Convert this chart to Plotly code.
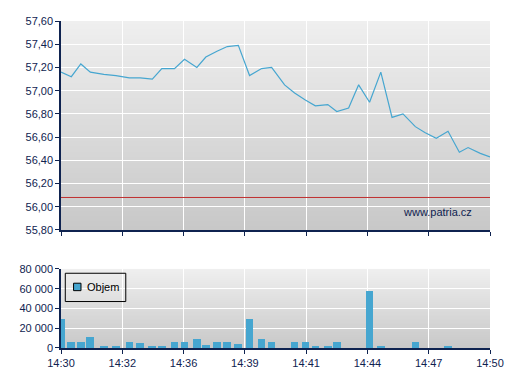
import struct, zlib, base64
import plotly.graph_objects as go

# ---- data ----
slot_pos = [0, 1.01, 1.94, 2.87, 4.19, 5.38, 6.69, 7.76, 8.94, 9.87,
            11.11, 12.09, 13.30, 14.18, 15.27, 16.28, 17.36, 18.46, 19.64, 20.62,
            21.89, 22.87, 23.92, 24.90, 26.12, 27.00, 28.16, 29.14, 30.21, 31.31,
            32.41, 33.48, 34.69, 35.62, 36.74, 37.89, 39.00, 39.85, 41.05, 42.0]
price = [57.16, 57.12, 57.23, 57.16, 57.14, 57.13, 57.11, 57.11, 57.10, 57.19,
         57.19, 57.27, 57.20, 57.29, 57.34, 57.38, 57.39, 57.13, 57.19, 57.20,
         57.05, 56.98, 56.92, 56.87, 56.88, 56.82, 56.85, 57.05, 56.90, 57.16,
         56.77, 56.80, 56.69, 56.64, 56.59, 56.65, 56.47, 56.51, 56.46, 56.43]
volume = [29600, 6400, 6400, 11400, 1300, 1300, 6400, 5300, 1300, 2300,
          6400, 6400, 9400, 3400, 6400, 6400, 4400, 29600, 9400, 6400,
          0, 6400, 6400, 2300, 1300, 6400, 0, 0, 57800, 1300,
          0, 0, 6400, 0, 0, 1300, 0, 0, 0, 0]
prev_close = 56.08
tick_slots = [0, 6, 12, 18, 24, 30, 36, 42]
tick_labels = ["14:30", "14:32", "14:36", "14:39", "14:41", "14:44", "14:47", "14:50"]
price_ticks = [55.8, 56.0, 56.2, 56.4, 56.6, 56.8, 57.0, 57.2, 57.4, 57.6]
vol_ticks = [0, 20000, 40000, 60000, 80000]
vol_labels = ["0", "20 000", "40 000", "60 000", "80 000"]

NAVY = "#0f2350"
BLUE = "#46a6d0"
FONT = "Liberation Sans, Arial, sans-serif"


def png_gradient(c_top, c_bot, h=256):
    raw = b""
    for i in range(h):
        t = i / (h - 1)
        c = [round(a + (b - a) * t) for a, b in zip(c_top, c_bot)]
        raw += b"\x00" + bytes(c)

    def chunk(tag, data):
        return (struct.pack(">I", len(data)) + tag + data +
                struct.pack(">I", zlib.crc32(tag + data) & 0xffffffff))
    png = (b"\x89PNG\r\n\x1a\n" +
           chunk(b"IHDR", struct.pack(">IIBBBBB", 1, h, 8, 2, 0, 0, 0)) +
           chunk(b"IDAT", zlib.compress(raw)) + chunk(b"IEND", b""))
    return "data:image/png;base64," + base64.b64encode(png).decode()


grad = png_gradient((239, 239, 239), (200, 200, 200))

fig = go.Figure()
fig.add_trace(go.Scatter(x=slot_pos, y=price, mode="lines",
                         line=dict(color=BLUE, width=1.2),
                         xaxis="x", yaxis="y", showlegend=False))
fig.add_trace(go.Bar(x=slot_pos, y=volume, width=0.75,
                     marker=dict(color=BLUE, line=dict(width=0)),
                     xaxis="x2", yaxis="y2", showlegend=False, name="Objem"))

axis_common = dict(showline=True, linecolor=NAVY, linewidth=1.5,
                   ticks="outside", ticklen=4, tickcolor=NAVY, tickwidth=1,
                   showgrid=True, gridcolor="white", gridwidth=1.3,
                   zeroline=False, automargin=False,
                   tickfont=dict(family=FONT, size=11, color=NAVY))

fig.update_layout(
    width=507, height=380,
    margin=dict(l=61, r=17, t=21, b=32),
    paper_bgcolor="white", plot_bgcolor="rgba(0,0,0,0)",
    separators=", ",
    bargap=0,
    xaxis=dict(domain=[0, 1], anchor="y", range=[0, 42], tickvals=tick_slots,
               ticktext=tick_labels, showticklabels=False, **axis_common),
    yaxis=dict(domain=[0.3609, 1], anchor="x", range=[55.8, 57.6],
               tickvals=price_ticks, tickformat=".2f", **axis_common),
    xaxis2=dict(domain=[0, 1], anchor="y2", range=[0, 42], tickvals=tick_slots,
                ticktext=tick_labels, matches="x", **axis_common),
    yaxis2=dict(domain=[0, 0.2416], anchor="x2", range=[0, 80000],
                tickvals=vol_ticks, ticktext=vol_labels, **axis_common),
    images=[
        dict(source=grad, xref="x domain", yref="y domain", x=0, y=1, sizex=1, sizey=1,
             sizing="stretch", xanchor="left", yanchor="top", layer="below"),
        dict(source=grad, xref="x2 domain", yref="y2 domain", x=0, y=1, sizex=1, sizey=1,
             sizing="stretch", xanchor="left", yanchor="top", layer="below"),
    ],
    shapes=[
        dict(type="line", xref="x domain", yref="y", x0=0, x1=1, y0=prev_close, y1=prev_close,
             line=dict(color="#c03030", width=1)),
        # manual legend box
        dict(type="rect", xref="x2 domain", yref="y2 domain", x0=0.010, x1=0.151,
             y0=0.588, y1=0.946, line=dict(color="black", width=1), fillcolor="rgba(0,0,0,0)"),
        dict(type="rect", xref="x2 domain", yref="y2 domain", x0=0.0293, x1=0.0466,
             y0=0.726, y1=0.820, line=dict(color="black", width=1), fillcolor=BLUE),
    ],
    annotations=[
        dict(text="Objem", xref="x2 domain", yref="y2 domain", x=0.056, y=0.773,
             xanchor="left", yanchor="middle", showarrow=False,
             font=dict(family=FONT, size=11, color="black")),
        dict(text="www.patria.cz", xref="x domain", yref="y domain", x=0.962, y=0.085,
             xanchor="right", yanchor="middle", showarrow=False,
             font=dict(family=FONT, size=11, color=NAVY)),
    ],
)

fig.write_html("out.html")
